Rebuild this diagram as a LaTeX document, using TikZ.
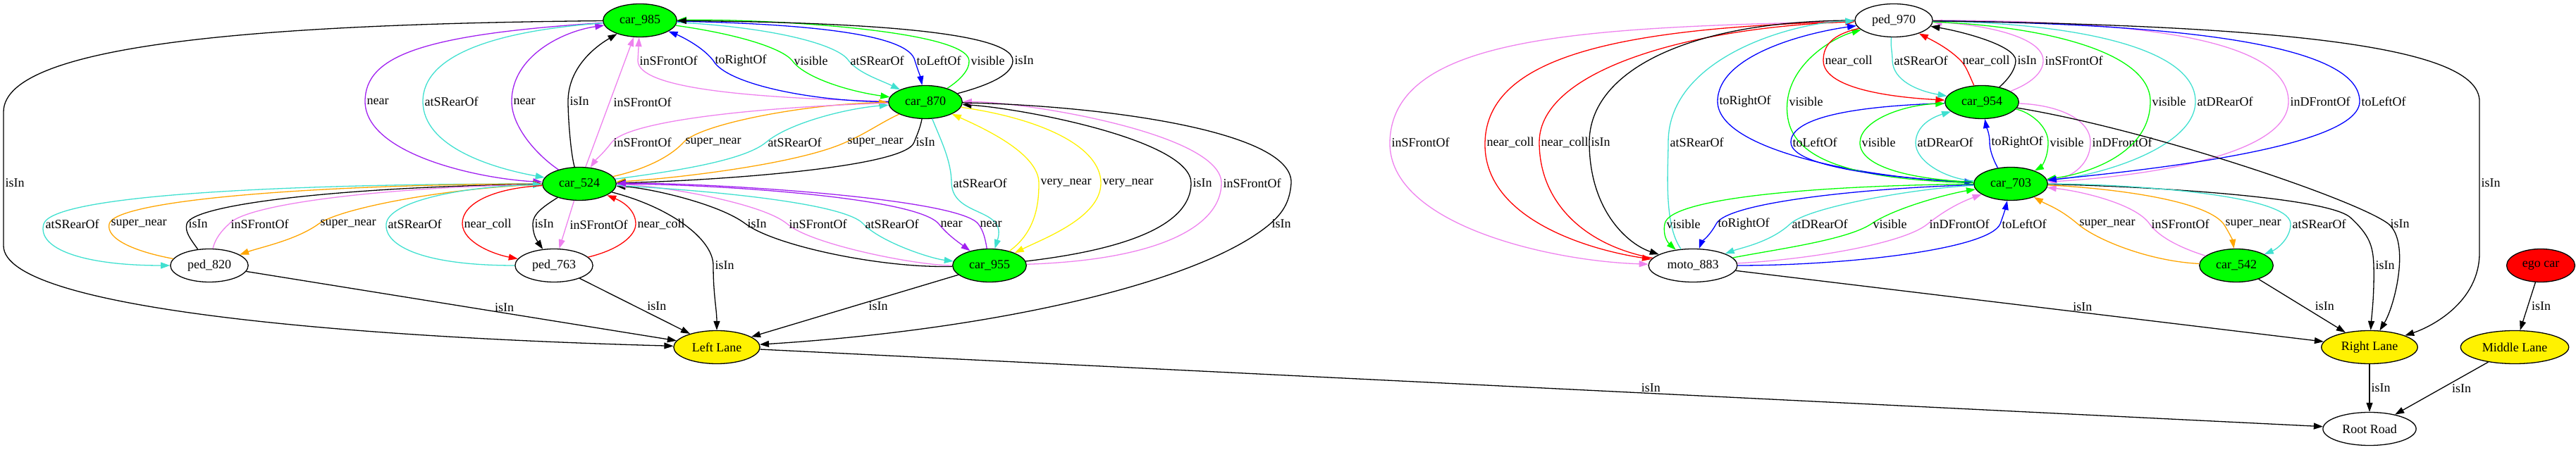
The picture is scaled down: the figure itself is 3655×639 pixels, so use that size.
\documentclass[tikz,border=0pt]{standalone}
\usepackage{fontspec}
\setmainfont{Liberation Serif}
\usetikzlibrary{shapes.geometric, arrows.meta}
\definecolor{purp}{RGB}{160,32,240}
\definecolor{turq}{RGB}{64,224,208}
\definecolor{orng}{RGB}{255,165,0}
\definecolor{viol}{RGB}{238,130,238}
\definecolor{grn}{RGB}{0,255,0}
\begin{document}
\begin{tikzpicture}[
            x=1pt, y=1pt,
            font=\fontsize{18}{21}\selectfont,
            obj/.style={
                ellipse,
                draw,
                line width=1.3pt,
                inner xsep=8pt,
                inner ysep=2pt,
                minimum height=47pt
            },
            car/.style={obj, fill=grn},
            lane/.style={obj, fill=yellow},
            rel/.style={line width=1.3pt, -{Triangle[length=13pt, width=9pt]}},
            lbl/.style={anchor=west, inner sep=2pt, text=black}
        ]

            \useasboundingbox (0,0) rectangle (3655,639);

            \node[car] (car985) at (908, 610) {car\_985};
            \node[car] (car870) at (1313, 494) {car\_870};
            \node[car] (car524) at (822, 378) {car\_524};
            \node[obj] (ped820) at (297, 262) {ped\_820};
            \node[obj] (ped763) at (786, 262) {ped\_763};
            \node[car] (car955) at (1404, 262) {car\_955};
            \node[lane] (leftlane) at (1017, 146) {Left Lane};

            \node[obj] (ped970) at (2687, 610) {ped\_970};
            \node[car] (car954) at (2812, 494) {car\_954};
            \node[car] (car703) at (2853, 378) {car\_703};
            \node[obj] (moto883) at (2402, 262) {moto\_883};
            \node[car] (car542) at (3173, 262) {car\_542};
            \node[obj, fill=red] (egocar) at (3605, 262) {ego car};
            \node[lane] (rightlane) at (3362, 146) {Right Lane};
            \node[lane] (midlane) at (3568, 146) {Middle Lane};
            \node[obj] (rootroad) at (3362, 30) {Root Road};

            \draw[rel] (car985) .. controls (400,605) and (5,580) .. (5,480) -- (5,379) node[lbl] {isIn}
                -- (5,290) .. controls (5,200) and (500,160) .. (leftlane);
            \draw[rel, purp] (car985) .. controls (600,590) and (518,560) .. (518,495) node[lbl] {near}
                .. controls (518,420) and (680,385) .. (car524);
            \draw[rel, purp] (car524) .. controls (760,420) and (726,460) .. (726,495) node[lbl] {near}
                .. controls (726,560) and (800,595) .. (car985);
            \draw[rel, turq] (car985) .. controls (700,595) and (600,560) .. (600,495) node[lbl] {atSRearOf}
                .. controls (600,430) and (700,400) .. (car524);
            \draw[rel] (car524) .. controls (810,420) and (806,470) .. (806,495) node[lbl] {isIn}
                .. controls (806,540) and (840,570) .. (car985);
            \draw[rel, viol] (car524) -- (car985)
                node[lbl, midway, xshift=3pt] {inSFrontOf};

            \draw[rel, viol] (car870) .. controls (1050,500) and (905,515) .. (905,553) node[lbl] {inSFrontOf}
                -- (car985);
            \draw[rel, blue] (car870) .. controls (1150,495) and (1030,520) .. (1012,553) node[lbl] {toRightOf}
                .. controls (995,575) and (960,590) .. (car985);
            \draw[rel, grn] (car985) .. controls (1050,590) and (1110,570) .. (1124,553) node[lbl] {visible}
                .. controls (1140,530) and (1200,510) .. (car870);
            \draw[rel, turq] (car985) .. controls (1100,600) and (1190,575) .. (1204,553) node[lbl] {atSRearOf}
                .. controls (1218,535) and (1250,525) .. (car870);
            \draw[rel, blue] (car985) .. controls (1150,605) and (1290,590) .. (1298,553) node[lbl] {toLeftOf}
                .. controls (1302,540) and (1306,530) .. (car870);
            \draw[rel, grn] (car870) .. controls (1362,525) and (1376,540) .. (1375,553) node[lbl] {visible}
                .. controls (1372,595) and (1100,612) .. (car985);
            \draw[rel] (car870) .. controls (1410,520) and (1437,535) .. (1437,553) node[lbl] {isIn}
                .. controls (1437,600) and (1150,608) .. (car985);

            \draw[rel, orng] (car524) .. controls (900,395) and (945,410) .. (970,437) node[lbl] {super\_near}
                .. controls (995,464) and (1150,492) .. (car870);
            \draw[rel, turq] (car524) .. controls (950,395) and (1055,410) .. (1087,437) node[lbl] {atSRearOf}
                .. controls (1119,464) and (1200,485) .. (car870);
            \draw[rel, orng] (car870) .. controls (1250,465) and (1230,450) .. (1200,437) node[lbl] {super\_near}
                .. controls (1130,405) and (950,385) .. (car524);
            \draw[rel] (car870) .. controls (1305,455) and (1300,445) .. (1297,437) node[lbl] {isIn}
                .. controls (1285,400) and (1000,382) .. (car524);
            \draw[rel, viol] (car870) .. controls (1100,488) and (895,470) .. (868,437) node[lbl] {inSFrontOf}
                .. controls (855,420) and (845,412) .. (car524);

            \draw[rel, turq] (car870) .. controls (1335,440) and (1350,410) .. (1350,379) node[lbl] {atSRearOf}
                .. controls (1352,330) and (1430,345) .. (car955);
            \draw[rel, yellow] (car955) .. controls (1470,310) and (1474,350) .. (1474,379) node[lbl] {very\_near}
                .. controls (1474,420) and (1400,455) .. (car870);
            \draw[rel, yellow] (car870) .. controls (1480,470) and (1562,430) .. (1562,379) node[lbl] {very\_near}
                .. controls (1562,330) and (1480,300) .. (car955);
            \draw[rel] (car955) .. controls (1600,285) and (1690,320) .. (1690,379) node[lbl] {isIn}
                .. controls (1690,440) and (1450,485) .. (car870);
            \draw[rel, viol] (car955) .. controls (1650,270) and (1733,320) .. (1733,379) node[lbl] {inSFrontOf}
                .. controls (1733,450) and (1450,495) .. (car870);
            \draw[rel] (car870) .. controls (1550,490) and (1835,455) .. (1832,379)
                .. controls (1830,350) and (1818,335) .. (1802,321) node[lbl] {isIn}
                .. controls (1700,235) and (1400,170) .. (leftlane);

            \draw[rel] (car955) .. controls (1250,258) and (1100,290) .. (1058,321) node[lbl] {isIn}
                .. controls (1020,350) and (920,372) .. (car524);
            \draw[rel, viol] (car955) .. controls (1300,262) and (1150,292) .. (1117,321) node[lbl] {inSFrontOf}
                .. controls (1080,352) and (930,376) .. (car524);
            \draw[rel, turq] (car524) .. controls (950,372) and (1195,355) .. (1225,321) node[lbl] {atSRearOf}
                .. controls (1250,295) and (1320,272) .. (car955);
            \draw[rel, purp] (car524) .. controls (1000,378) and (1300,360) .. (1332,321) node[lbl] {near}
                .. controls (1345,305) and (1360,295) .. (car955);
            \draw[rel, purp] (car955) .. controls (1398,300) and (1395,312) .. (1388,321) node[lbl] {near}
                .. controls (1360,358) and (1000,380) .. (car524);

            \draw[rel] (car524) .. controls (950,345) and (1012,300) .. (1012,262) node[lbl] {isIn}
                .. controls (1012,220) and (1017,200) .. (leftlane);
            \draw[rel] (car955) -- (leftlane)
                node[lbl, midway, xshift=17pt] {isIn};
            \draw[rel] (ped763) -- (leftlane)
                node[lbl, midway, xshift=15pt] {isIn};
            \draw[rel] (ped820) -- (leftlane)
                node[pos=0.6, above, inner sep=1pt] {isIn};

            \draw[rel, turq] (car524) .. controls (400,378) and (75,362) .. (62,321) node[lbl] {atSRearOf}
                .. controls (52,285) and (120,262) .. (ped820);
            \draw[rel, orng] (ped820) .. controls (190,282) and (150,300) .. (155,321) node[lbl] {super\_near}
                .. controls (162,355) and (450,377) .. (car524);
            \draw[rel] (ped820) .. controls (270,300) and (262,310) .. (265,321) node[lbl] {isIn}
                .. controls (272,350) and (500,374) .. (car524);
            \draw[rel, viol] (ped820) .. controls (305,300) and (315,312) .. (325,321) node[lbl] {inSFrontOf}
                .. controls (350,350) and (550,373) .. (car524);
            \draw[rel, orng] (car524) .. controls (650,374) and (485,345) .. (452,321) node[lbl] {super\_near}
                .. controls (420,298) and (370,288) .. (ped820);
            \draw[rel, turq] (ped763) .. controls (600,262) and (545,290) .. (548,321) node[lbl] {atSRearOf}
                .. controls (551,352) and (650,374) .. (car524);
            \draw[rel, red] (car524) .. controls (700,372) and (655,350) .. (656,321) node[lbl] {near\_coll}
                .. controls (657,295) and (700,278) .. (ped763);
            \draw[rel] (car524) .. controls (770,345) and (756,335) .. (756,321) node[lbl] {isIn}
                .. controls (756,308) and (760,300) .. (ped763);
            \draw[rel, viol] (car524) -- (ped763)
                node[lbl, midway, xshift=2pt] {inSFrontOf};
            \draw[rel, red] (ped763) .. controls (880,285) and (902,305) .. (902,321) node[lbl] {near\_coll}
                .. controls (902,340) and (885,352) .. (car524);

            \draw[rel, viol] (ped970) .. controls (2250,600) and (1975,590) .. (1972,437) node[lbl] {inSFrontOf}
                .. controls (1970,320) and (2200,268) .. (moto883);
            \draw[rel, red] (ped970) .. controls (2300,600) and (2110,560) .. (2107,437) node[lbl] {near\_coll}
                .. controls (2104,330) and (2250,285) .. (moto883);
            \draw[rel, red] (moto883) .. controls (2250,290) and (2184,350) .. (2184,437) node[lbl] {near\_coll}
                .. controls (2184,540) and (2400,600) .. (ped970);
            \draw[rel] (ped970) .. controls (2400,610) and (2255,540) .. (2255,437) node[lbl] {isIn}
                .. controls (2255,340) and (2310,292) .. (moto883);
            \draw[rel, turq] (moto883) .. controls (2360,320) and (2367,400) .. (2367,437) node[lbl] {atSRearOf}
                .. controls (2367,560) and (2550,608) .. (ped970);

            \draw[rel, blue] (car703) .. controls (2650,385) and (2437,425) .. (2437,495) node[lbl] {toRightOf}
                .. controls (2437,560) and (2560,592) .. (ped970);
            \draw[rel, grn] (car703) .. controls (2580,385) and (2530,430) .. (2536,495) node[lbl] {visible}
                .. controls (2542,550) and (2600,585) .. (ped970);
            \draw[rel, blue] (car954) .. controls (2620,488) and (2541,470) .. (2541,437) node[lbl] {toLeftOf}
                .. controls (2541,400) and (2700,385) .. (car703);
            \draw[rel, grn] (car703) .. controls (2700,385) and (2638,405) .. (2639,437) node[lbl] {visible}
                .. controls (2640,468) and (2700,490) .. (car954);
            \draw[rel, turq] (car703) .. controls (2760,385) and (2717,410) .. (2718,437) node[lbl] {atDRearOf}
                .. controls (2719,460) and (2740,472) .. (car954);
            \draw[rel, blue] (car703) .. controls (2835,400) and (2823,420) .. (2823,437) node[lbl] {toRightOf}
                .. controls (2823,450) and (2818,460) .. (car954);
            \draw[rel, grn] (car954) .. controls (2880,480) and (2906,460) .. (2906,437) node[lbl] {visible}
                .. controls (2906,410) and (2893,400) .. (car703);
            \draw[rel, viol] (car954) .. controls (2920,490) and (2966,470) .. (2966,437) node[lbl] {inDFrontOf}
                .. controls (2966,400) and (2930,385) .. (car703);

            \draw[rel, red] (ped970) .. controls (2600,590) and (2587,575) .. (2587,553) node[lbl] {near\_coll}
                .. controls (2587,510) and (2700,500) .. (car954);
            \draw[rel, turq] (ped970) .. controls (2682,575) and (2685,565) .. (2685,553) node[lbl] {atSRearOf}
                .. controls (2686,525) and (2720,510) .. (car954);
            \draw[rel, red] (car954) .. controls (2795,530) and (2790,545) .. (2782,553) node[lbl] {near\_coll}
                .. controls (2765,570) and (2745,580) .. (ped970);
            \draw[rel] (car954) .. controls (2848,525) and (2860,540) .. (2860,553) node[lbl] {isIn}
                .. controls (2860,575) and (2780,595) .. (ped970);
            \draw[rel, viol] (car954) .. controls (2880,520) and (2899,535) .. (2899,553) node[lbl] {inSFrontOf}
                .. controls (2899,590) and (2800,605) .. (ped970);

            \draw[rel, grn] (ped970) .. controls (2900,602) and (3051,565) .. (3051,495) node[lbl] {visible}
                .. controls (3051,420) and (2960,392) .. (car703);
            \draw[rel, turq] (ped970) .. controls (2950,606) and (3115,570) .. (3115,495) node[lbl] {atDRearOf}
                .. controls (3115,430) and (2980,390) .. (car703);
            \draw[rel, viol] (ped970) .. controls (3000,610) and (3247,590) .. (3247,495) node[lbl] {inDFrontOf}
                .. controls (3247,410) and (3000,386) .. (car703);
            \draw[rel, blue] (ped970) .. controls (3100,605) and (3348,575) .. (3348,495) node[lbl] {toLeftOf}
                .. controls (3348,430) and (3050,398) .. (car703);
            \draw[rel] (ped970) .. controls (3300,602) and (3518,565) .. (3518,495) -- (3518,379) node[lbl] {isIn}
                -- (3518,280) .. controls (3518,210) and (3450,175) .. (rightlane);
            \draw[rel] (car954) .. controls (3050,455) and (3345,355) .. (3389,321) node[lbl] {isIn}
                .. controls (3420,295) and (3398,205) .. (rightlane);
            \draw[rel] (car703) .. controls (3000,376) and (3300,362) .. (3335,330)
                .. controls (3362,305) and (3367,290) .. (3368,262) node[lbl] {isIn}
                .. controls (3369,220) and (3365,190) .. (rightlane);

            \draw[rel, grn] (car703) .. controls (2600,376) and (2368,360) .. (2362,321) node[lbl] {visible}
                .. controls (2359,305) and (2366,295) .. (moto883);
            \draw[rel, blue] (car703) .. controls (2650,372) and (2450,352) .. (2435,321) node[lbl] {toRightOf}
                .. controls (2425,303) and (2414,295) .. (moto883);
            \draw[rel, turq] (car703) .. controls (2720,372) and (2565,345) .. (2540,321) node[lbl] {atDRearOf}
                .. controls (2512,295) and (2470,287) .. (moto883);
            \draw[rel, grn] (moto883) .. controls (2520,285) and (2620,298) .. (2655,321) node[lbl] {visible}
                .. controls (2690,345) and (2770,365) .. (car703);
            \draw[rel, viol] (moto883) .. controls (2560,270) and (2700,292) .. (2735,321) node[lbl] {inDFrontOf}
                .. controls (2765,345) and (2790,355) .. (car703);
            \draw[rel, blue] (moto883) .. controls (2620,262) and (2822,285) .. (2838,321) node[lbl] {toLeftOf}
                .. controls (2843,335) and (2846,345) .. (car703);
            \draw[rel, orng] (car542) .. controls (3050,268) and (2975,298) .. (2948,321) node[lbl] {super\_near}
                .. controls (2922,343) and (2905,348) .. (car703);
            \draw[rel, viol] (car542) .. controls (3100,285) and (3065,300) .. (3050,321) node[lbl] {inSFrontOf}
                .. controls (3030,350) and (2950,368) .. (car703);
            \draw[rel, orng] (car703) .. controls (2960,374) and (3125,360) .. (3155,321) node[lbl] {super\_near}
                .. controls (3165,305) and (3168,297) .. (car542);
            \draw[rel, turq] (car703) .. controls (3000,378) and (3250,365) .. (3250,321) node[lbl] {atSRearOf}
                .. controls (3250,300) and (3230,285) .. (car542);

            \draw[rel] (moto883) -- (rightlane)
                node[pos=0.59, above, inner sep=1pt] {isIn};
            \draw[rel] (car542) -- (rightlane)
                node[lbl, midway, xshift=16pt] {isIn};
            \draw[rel] (egocar) -- (midlane)
                node[lbl, midway, xshift=3pt] {isIn};
            \draw[rel] (rightlane) -- (rootroad)
                node[lbl, midway] {isIn};
            \draw[rel] (midlane) -- (rootroad)
                node[pos=0.4, below right, inner sep=1pt] {isIn};
            \draw[rel] (leftlane) -- (rootroad)
                node[pos=0.57, above, inner sep=1pt] {isIn};

        \end{tikzpicture}
\end{document}
